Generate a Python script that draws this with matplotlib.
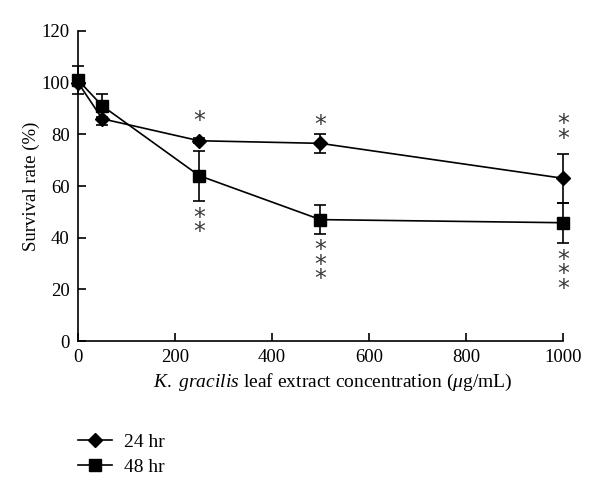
import matplotlib
matplotlib.use("Agg")
import matplotlib.pyplot as plt

plt.rcParams['font.family'] = ['Liberation Serif', 'DejaVu Serif']
plt.rcParams['mathtext.fontset'] = 'custom'
plt.rcParams['mathtext.it'] = 'Liberation Serif:italic'
plt.rcParams['mathtext.rm'] = 'Liberation Serif'

# data
conc = [0, 50, 250, 500, 1000]
surv_24 = [100, 86, 77.5, 76.5, 63]
err_24 = [1, 2.5, 1, 3.7, 9.5]
surv_48 = [101, 91, 64, 47, 45.8]
err_48 = [5.5, 4.5, 9.7, 5.7, 7.7]

# significance marks: (x, y, text)
marks_24 = [(250, 85.0, '*'), (500, 83.5, '*'), (1000, 81.0, '*\n*')]
marks_48 = [(250, 45.0, '*\n*'), (500, 29.5, '*\n*\n*'), (1000, 25.8, '*\n*\n*')]

fig = plt.figure(figsize=(6, 4.98), dpi=100)
ax = fig.add_axes([0.13, 0.315, 0.808, 0.623])

ax.errorbar(conc, surv_24, yerr=err_24, color='black', marker='D', markersize=7,
            lw=1.2, elinewidth=1.2, capsize=4, capthick=1.2, label='24 hr')
ax.errorbar(conc, surv_48, yerr=err_48, color='black', marker='s', markersize=8,
            lw=1.2, elinewidth=1.2, capsize=4, capthick=1.2, label='48 hr')

for x, y, t in marks_24 + marks_48:
    ax.text(x, y, t, ha='center', va='center', fontsize=17, color='#3a3a3a',
            family='DejaVu Sans', linespacing=0.5)

ax.set_xlim(0, 1000)
ax.set_ylim(0, 120)
ax.set_xticks([0, 200, 400, 600, 800, 1000])
ax.set_yticks([0, 20, 40, 60, 80, 100, 120])
ax.spines['top'].set_visible(False)
ax.spines['right'].set_visible(False)
ax.spines['left'].set_linewidth(1.2)
ax.spines['bottom'].set_linewidth(1.2)
ax.tick_params(direction='in', length=6, width=1.2, labelsize=13.5, pad=6)
ax.set_ylabel('Survival rate (%)', fontsize=13.5, labelpad=1)
ax.set_xlabel(r'$\mathit{K.\ gracilis}$ leaf extract concentration ($\mu$g/mL)',
              fontsize=14, labelpad=6)
ax.xaxis.set_label_coords(0.525, -0.1)
for c in ax.get_children():
    c.set_clip_on(False)

handles, labels = ax.get_legend_handles_labels()
handles = [h[0] for h in handles]
fig.legend(handles, labels, loc='center left', bbox_to_anchor=(0.101, 0.087),
           bbox_transform=fig.transFigure, frameon=False, fontsize=14,
           handlelength=1.75, labelspacing=0.35, handletextpad=0.6)

fig.savefig('out.png', dpi=100)
